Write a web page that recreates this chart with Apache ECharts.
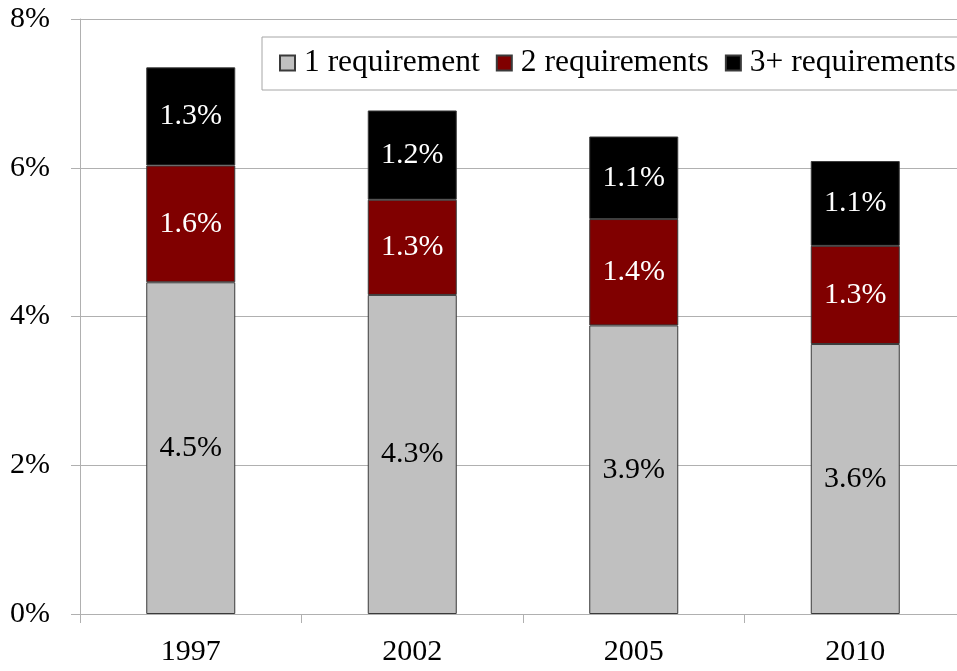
<!DOCTYPE html>
<html>
<head>
<meta charset="utf-8">
<script src="https://cdn.jsdelivr.net/npm/echarts@6/dist/echarts.min.js"></script>
<style>
html,body{margin:0;padding:0;background:#fff;}
#chart{width:957px;height:671px;}
</style>
</head>
<body>
<div id="chart"></div>
<script>
const categories = ['1997', '2002', '2005', '2010'];
const seriesNames = ['1 requirement', '2 requirements', '3+ requirements'];
const oneReq = [4.46, 4.29, 3.88, 3.63];
const twoReq = [1.57, 1.28, 1.43, 1.32];
const threeReq = [1.32, 1.20, 1.11, 1.14];
const yTicks = [0, 2, 4, 6, 8];

const FONT = 'Liberation Serif';
const colors = ['#c0c0c0', '#800000', '#000000'];
const labelColors = ['#000000', '#ffffff', '#ffffff'];
const dataSets = [oneReq, twoReq, threeReq];

const chart = echarts.init(document.getElementById('chart'), null, {renderer: 'canvas'});
chart.setOption({
  animation: false,
  backgroundColor: '#ffffff',
  textStyle: {fontFamily: FONT},
  grid: {left: 80, top: 19, width: 886, height: 595, containLabel: false, outerBoundsMode: 'none'},
  legend: {
    left: 262, top: 37,
    width: 900,
    padding: [10, 12, 11, 17],
    borderColor: '#a6a6a6', borderWidth: 1,
    backgroundColor: '#ffffff',
    icon: 'rect',
    itemWidth: 15, itemHeight: 15, itemGap: 16,
    textStyle: {fontFamily: FONT, fontSize: 31.5, color: '#000', padding: [0, 0, 0, 4]},
    data: seriesNames
  },
  xAxis: {
    type: 'category',
    data: categories,
    boundaryGap: true,
    axisLine: {show: true, lineStyle: {color: '#b0b0b0', width: 1}},
    axisTick: {show: true, length: 9, lineStyle: {color: '#b0b0b0'}},
    axisLabel: {fontFamily: FONT, fontSize: 30, color: '#000', margin: 23}
  },
  yAxis: {
    type: 'value',
    min: yTicks[0], max: yTicks[yTicks.length - 1], interval: 2,
    axisLine: {show: true, lineStyle: {color: '#b0b0b0', width: 1}},
    axisTick: {show: true, length: 9, lineStyle: {color: '#b0b0b0'}},
    splitLine: {show: true, lineStyle: {color: '#b0b0b0', width: 1}},
    axisLabel: {fontFamily: FONT, fontSize: 30, color: '#000', margin: 30,
      formatter: v => v + '%'}
  },
  series: seriesNames.map((name, i) => ({
    name: name,
    type: 'bar',
    stack: 'total',
    barWidth: 89,
    data: dataSets[i],
    itemStyle: {color: colors[i], borderColor: '#3a3a3a', borderWidth: 1},
    label: {
      show: true, position: 'inside',
      fontFamily: FONT, fontSize: 30, color: labelColors[i],
      formatter: p => p.value.toFixed(1) + '%'
    }
  }))
});
</script>
</body>
</html>
